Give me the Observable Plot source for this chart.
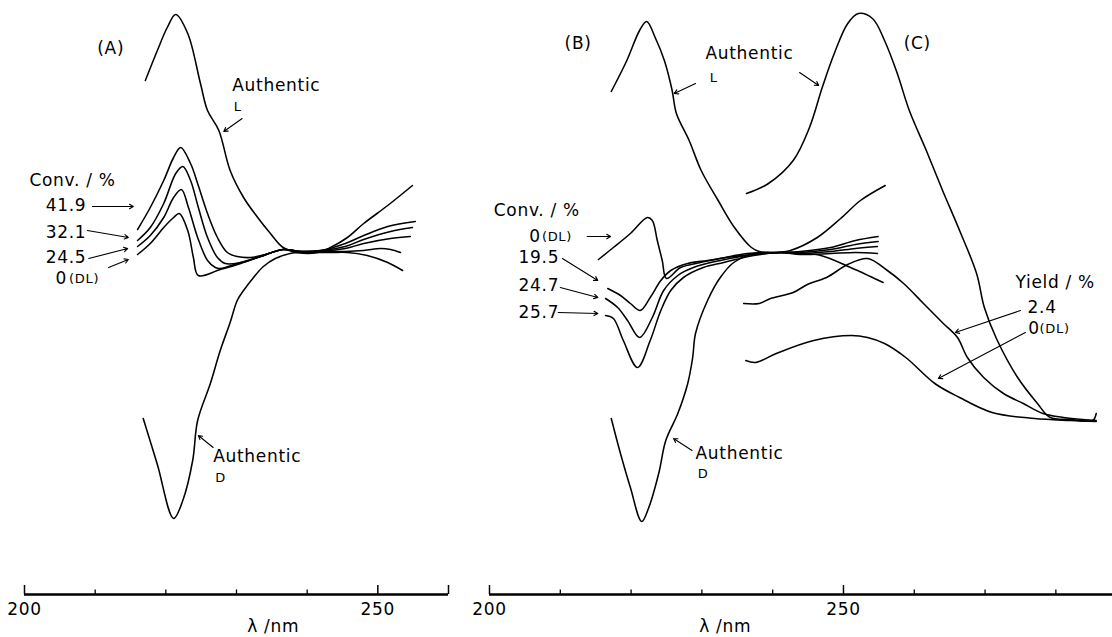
<!DOCTYPE html>
<html><head><meta charset="utf-8">
<script src="https://cdn.jsdelivr.net/npm/d3@7"></script>
<script src="https://cdn.jsdelivr.net/npm/@observablehq/plot@0.6"></script>
<style>
html,body{margin:0;padding:0;background:#fff;}
#wrap{position:relative;width:1112px;height:637px;overflow:hidden;background:#fff;}
#wrap svg{position:absolute;top:0;}
</style></head><body><div id="wrap"></div>
<script>
// ---------- Panel A (wavelength nm, CD signal arbitrary units) ----------
const aAuthL = [[217.1,17.2],[218.8,20.2],[220.2,22.5],[221.4,23.8],[223.1,21.9],[224.9,16.9],[225.9,14.2],[227.5,12.2],[229.1,8.2],[231.0,5.5],[233.0,3.5],[234.8,1.9],[236.6,0.5],[238.6,0.0],[241.5,0.0],[243.3,0.5],[245.7,1.5],[248.0,2.9],[251.4,4.7],[254.9,6.7]];
const aAuthD = [[216.8,-16.6],[218.8,-21.2],[221.1,-26.6],[222.4,-24.8],[223.8,-20.8],[224.5,-16.8],[226.3,-13.1],[227.7,-9.8],[229.1,-7.0],[230.1,-4.8],[231.0,-3.8],[232.3,-2.6],[233.8,-1.4],[235.5,-0.6],[237.6,-0.1],[239.8,0.0],[243.3,0.0],[245.7,0.0],[248.5,-0.3],[251.4,-1.0],[253.5,-1.8]];
const aConv419 = [[216.0,2.3],[217.8,4.5],[219.7,7.2],[221.1,9.5],[222.1,10.5],[223.5,8.9],[224.5,6.9],[225.9,3.9],[227.3,1.5],[228.7,0.0],[230.1,-0.4],[232.0,-0.5],[234.1,-0.2],[236.6,0.3],[239.1,0.1],[241.9,0.2],[245.4,0.9],[248.0,1.7],[251.4,2.6],[255.3,3.1]];
const aConv321 = [[216.0,1.2],[217.8,2.5],[219.7,4.9],[221.4,7.9],[222.4,8.6],[223.5,7.2],[224.6,4.5],[225.9,1.5],[227.3,-0.5],[228.4,-1.1],[230.6,-1.0],[233.4,-0.4],[236.6,0.3],[239.1,0.1],[241.9,0.2],[245.4,0.6],[248.0,1.3],[251.8,2.1],[254.9,2.5]];
const aConv245 = [[216.0,0.6],[217.8,1.7],[219.7,3.5],[221.1,5.5],[222.2,6.3],[223.2,4.5],[224.5,1.5],[225.9,-0.8],[227.0,-1.5],[227.7,-1.6],[230.6,-1.0],[233.4,-0.4],[236.6,0.3],[239.1,0.1],[241.9,0.1],[245.4,0.4],[248.0,0.9],[251.8,1.4],[254.6,1.6]];
const aConv0DL = [[216.0,-0.2],[217.8,0.9],[219.7,2.5],[221.1,3.5],[221.9,3.9],[223.1,2.2],[223.9,-0.5],[224.6,-2.3],[227.7,-1.7],[230.6,-1.1],[233.4,-0.4],[236.6,0.3],[239.1,0.1],[241.9,0.1],[245.4,0.1],[248.0,0.2],[250.4,0.4],[251.8,0.3],[253.2,0.0]];

// ---------- Panel B / C ----------
const bAuthL = [[217.2,16.1],[219.4,19.2],[221.2,22.2],[222.2,23.1],[223.4,21.5],[224.7,19.2],[225.8,16.2],[226.4,13.9],[228.2,11.2],[229.9,8.2],[232.3,5.2],[234.6,2.5],[237.0,0.5],[238.1,0.1],[240.5,0.0],[242.5,0.2],[246.3,1.5],[249.6,3.4],[252.4,5.2],[255.9,6.7]];
const bAuthD = [[217.2,-16.6],[218.5,-20.1],[219.9,-23.5],[221.5,-26.9],[222.5,-25.5],[223.9,-22.1],[224.9,-18.8],[226.6,-16.1],[228.0,-13.1],[228.7,-10.5],[229.1,-8.1],[230.8,-4.8],[232.6,-2.5],[234.5,-1.0],[237.3,-0.1],[240.5,0.0],[243.9,-0.1],[246.8,-0.3],[251.0,-1.5],[253.8,-2.4],[255.6,-3.0]];
const bConv0DL = [[215.4,-0.7],[217.5,0.5],[219.9,1.9],[222.3,3.5],[223.0,3.2],[223.7,1.2],[224.4,-0.8],[225.0,-2.6],[227.0,-1.5],[229.8,-1.0],[232.6,-0.6],[236.4,-0.1],[241.1,0.0],[243.9,0.1],[248.2,0.5],[251.7,1.2],[254.9,1.6]];
const bConv195 = [[216.7,-3.6],[218.5,-4.3],[219.9,-5.1],[221.3,-5.8],[222.7,-4.5],[224.2,-2.8],[225.6,-1.8],[228.0,-1.1],[230.8,-0.8],[234.5,-0.4],[241.1,0.0],[243.9,0.0],[248.2,0.3],[251.7,0.8],[254.9,1.1]];
const bConv247 = [[216.4,-4.6],[218.1,-5.5],[219.5,-6.8],[221.2,-8.5],[223.0,-6.5],[224.6,-3.8],[226.6,-2.3],[228.8,-1.5],[232.6,-0.8],[237.3,-0.2],[241.1,0.0],[243.9,-0.1],[248.2,0.1],[251.7,0.4],[254.8,0.6]];
const bConv257 = [[216.4,-6.3],[217.5,-6.6],[218.9,-8.8],[220.9,-11.5],[222.7,-8.8],[224.2,-5.8],[225.6,-3.8],[227.4,-2.5],[230.2,-1.5],[233.1,-1.0],[237.3,-0.3],[241.1,0.0],[243.9,-0.2],[248.2,-0.1],[251.7,0.0],[254.8,-0.1]];
const cAuthL = [[236.3,5.9],[239.4,6.9],[242.9,9.2],[245.2,12.5],[247.0,16.5],[248.7,19.9],[250.6,22.9],[252.1,23.9],[254.1,23.4],[255.8,21.2],[257.6,17.9],[259.3,14.2],[261.7,10.2],[264.0,6.2],[266.4,2.2],[268.8,-2.1],[269.9,-5.5],[271.6,-8.6],[274.6,-12.5],[277.4,-15.1],[279.2,-16.5],[282.1,-16.7],[285.2,-16.8],[285.7,-16.1]];
const cYield24 = [[235.9,-5.1],[238.1,-5.1],[239.7,-4.6],[242.9,-4.0],[244.9,-3.2],[247.6,-2.5],[250.6,-1.2],[253.4,-0.6],[256.2,-1.8],[258.5,-3.1],[261.3,-5.1],[264.1,-7.1],[266.1,-8.5],[267.5,-10.5],[269.8,-12.5],[272.6,-14.1],[275.4,-15.1],[278.2,-16.1],[281.1,-16.5],[285.7,-16.8]];
const cYield0DL = [[236.2,-10.8],[237.6,-11.0],[240.5,-10.1],[245.8,-8.8],[251.1,-8.3],[253.4,-8.5],[255.8,-9.1],[258.8,-10.5],[262.9,-13.1],[266.4,-14.5],[271.0,-16.0],[277.0,-16.6],[282.1,-16.8],[285.7,-16.9]];

// ---------- axes ----------
const axisTickLabels = [200, 250];
const aMinorTicks = [210, 220, 230, 240];
const aMajorTicks = [200, 250, 260];
const bMinorTicks = [210, 220, 230, 240, 260, 270, 280];
const bMajorTicks = [200, 250];
const axisTitle = "λ /nm";
const aTitleAt = [235.2];
const bTitleAt = [233.3];

// ---------- annotations ----------
const aLabels = [
  {x:210.3, y:20.4, text:"(A)"}, {x:229.4, y:16.7, text:"Authentic"},
  {x:200.7, y:7.2, text:"Conv. / %"}, {x:203.0, y:4.7, text:"41.9"},
  {x:203.0, y:2.0, text:"32.1"}, {x:203.0, y:-0.5, text:"24.5"},
  {x:204.4, y:-2.6, text:"0"}, {x:226.7, y:-20.4, text:"Authentic"}
];
const aSmallLabels = [
  {x:229.6, y:14.6, text:"L"}, {x:206.3, y:-2.6, text:"(DL)"}, {x:227.0, y:-22.5, text:"D"}
];
const aArrows = [
  {x1:230.8, y1:13.4, x2:228.2, y2:12.1},
  {x1:209.6, y1:4.6, x2:215.4, y2:4.6},
  {x1:208.9, y1:2.2, x2:214.7, y2:1.5},
  {x1:209.1, y1:-0.6, x2:214.6, y2:0.4},
  {x1:211.9, y1:-1.5, x2:214.7, y2:-0.7},
  {x1:226.7, y1:-19.5, x2:224.6, y2:-18.3}
];
const bLabels = [
  {x:210.6, y:20.9, text:"(B)"}, {x:258.5, y:20.9, text:"(C)"},
  {x:230.5, y:19.9, text:"Authentic"}, {x:200.6, y:4.2, text:"Conv. / %"},
  {x:205.6, y:1.6, text:"0"}, {x:204.1, y:-0.5, text:"19.5"},
  {x:204.1, y:-3.3, text:"24.7"}, {x:204.1, y:-6.0, text:"25.7"},
  {x:274.3, y:-3.0, text:"Yield / %"}, {x:276.0, y:-5.5, text:"2.4"},
  {x:276.1, y:-7.6, text:"0"}, {x:229.1, y:-20.1, text:"Authentic"}
];
const bSmallLabels = [
  {x:231.1, y:17.5, text:"L"}, {x:207.4, y:1.6, text:"(DL)"},
  {x:277.7, y:-7.6, text:"(DL)"}, {x:229.4, y:-22.1, text:"D"}
];
const bArrows = [
  {x1:229.1, y1:16.9, x2:226.1, y2:15.9},
  {x1:243.8, y1:18.0, x2:246.5, y2:16.7},
  {x1:213.8, y1:1.6, x2:217.1, y2:1.6},
  {x1:210.3, y1:-0.6, x2:215.3, y2:-2.8},
  {x1:210.0, y1:-3.5, x2:215.3, y2:-4.5},
  {x1:209.7, y1:-6.0, x2:215.3, y2:-6.1},
  {x1:275.0, y1:-5.8, x2:265.8, y2:-8.0},
  {x1:275.7, y1:-8.0, x2:263.4, y2:-12.6},
  {x1:228.6, y1:-19.8, x2:226.0, y2:-18.6}
];

const yDomain = [-34.2, 25.2];
const yBase = yDomain[0];
const FONT = "DejaVu Sans, Liberation Sans, sans-serif";

function rows(series, pts) { return pts.map(([x, y]) => ({series, x, y})); }

const panelA = [
  ...rows("L", aAuthL), ...rows("D", aAuthD), ...rows("41.9", aConv419),
  ...rows("32.1", aConv321), ...rows("24.5", aConv245), ...rows("0DL", aConv0DL)
];
const panelB = [
  ...rows("bL", bAuthL), ...rows("bD", bAuthD), ...rows("b0", bConv0DL),
  ...rows("b19.5", bConv195), ...rows("b24.7", bConv247), ...rows("b25.7", bConv257),
  ...rows("cL", cAuthL), ...rows("c2.4", cYield24), ...rows("c0", cYield0DL)
];

function panel({data, width, marginLeft, marginRight, xDomain, minor, major, labels, small, arrows, titleAt, left}) {
  const svg = Plot.plot({
    width, height: 637, marginTop: 0, marginBottom: 43, marginLeft, marginRight,
    x: {domain: xDomain, axis: null},
    y: {domain: yDomain, axis: null},
    style: {background: "transparent", fontFamily: FONT, color: "black", overflow: "visible"},
    marks: [
      Plot.line(data, {x: "x", y: "y", z: "series", stroke: "black", strokeWidth: 1.55, curve: "catmull-rom"}),
      Plot.ruleY([yBase], {x1: xDomain[0], x2: xDomain[1], stroke: "black", strokeWidth: 2.6}),
      Plot.ruleX(minor, {y1: yBase, y2: yBase + 0.45, stroke: "black", strokeWidth: 1.3}),
      Plot.ruleX(major, {y1: yBase, y2: yBase + 0.9, stroke: "black", strokeWidth: 1.5}),
      Plot.text(axisTickLabels, {x: d => d, y: yBase, dy: 15, text: d => String(d), fontSize: 17, fill: "black"}),
      Plot.text(titleAt, {x: d => d, y: yBase, dy: 32, text: () => axisTitle, fontSize: 17, fill: "black"}),
      Plot.arrow(arrows, {x1: "x1", y1: "y1", x2: "x2", y2: "y2", stroke: "black", strokeWidth: 1.1, headLength: 6}),
      Plot.text(labels, {x: "x", y: "y", text: "text", textAnchor: "start", fontSize: 17, fill: "black"}),
      Plot.text(small, {x: "x", y: "y", text: "text", textAnchor: "start", fontSize: 13, fill: "black"})
    ]
  });
  svg.style.left = left + "px";
  svg.querySelectorAll("text").forEach(t => t.setAttribute("letter-spacing", "0.7"));
  return svg;
}

const wrap = document.getElementById("wrap");
wrap.appendChild(panel({data: panelA, width: 460, marginLeft: 24, marginRight: 12, xDomain: [200, 260],
  minor: aMinorTicks, major: aMajorTicks, labels: aLabels, small: aSmallLabels, arrows: aArrows, titleAt: aTitleAt, left: 0}));
wrap.appendChild(panel({data: panelB, width: 652, marginLeft: 29, marginRight: 0, xDomain: [200, 288],
  minor: bMinorTicks, major: bMajorTicks, labels: bLabels, small: bSmallLabels, arrows: bArrows, titleAt: bTitleAt, left: 460}));
</script></body></html>
